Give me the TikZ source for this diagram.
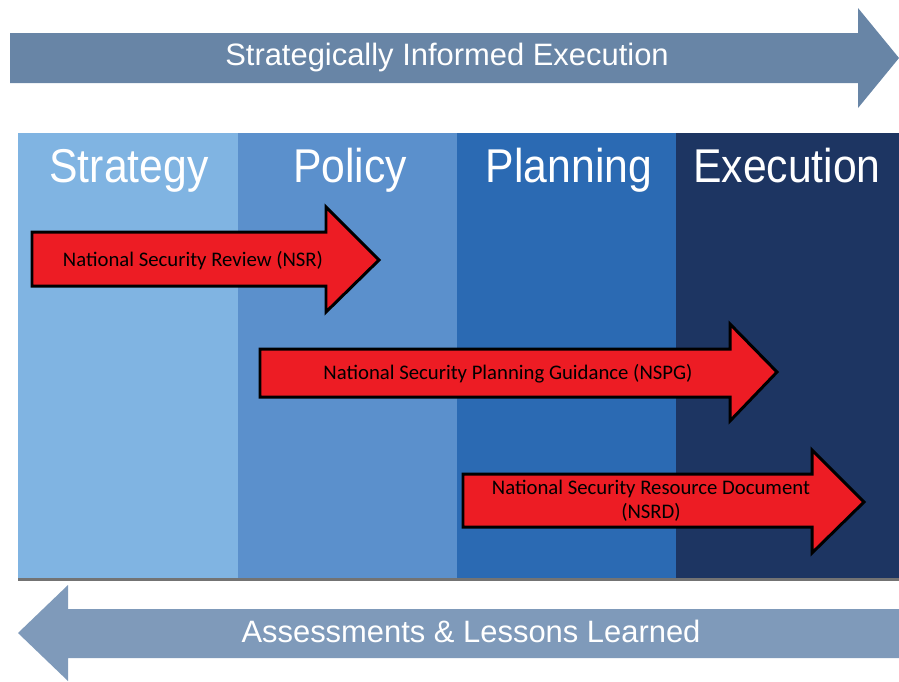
\documentclass[tikz,border=0pt]{standalone}
\usepackage{fontspec}
\setmainfont{Liberation Sans}
\newfontfamily\calibri{Carlito}
\usepackage{xcolor}
\usepackage{tikz}
\usetikzlibrary{calc}

\definecolor{stratblue}{RGB}{128,180,226}
\definecolor{polblue}{RGB}{91,144,204}
\definecolor{planblue}{RGB}{43,106,179}
\definecolor{execblue}{RGB}{29,53,98}
\definecolor{topslate}{RGB}{104,133,166}
\definecolor{botslate}{RGB}{127,154,186}
\definecolor{docred}{RGB}{237,28,36}

\tikzset{
	head/.style={text=white, anchor=base, inner sep=0pt, font=\fontsize{27}{29}\selectfont},
	bartext/.style={text=white, anchor=base, inner sep=0pt, font=\fontsize{17.6}{20}\selectfont},
	redarrow/.style={fill=docred, draw=black, line width=1.7pt, line join=miter},
	redtext/.style={text=black, inner sep=0pt, font=\calibri\fontsize{11.8}{13.6}\selectfont}
}
\newcommand{\narrow}[1]{\scalebox{0.9}[1]{#1}}

\begin{document}
\begin{tikzpicture}[x=0.02cm, y=-0.02cm]
	\useasboundingbox (0,0) rectangle (899,681);

	% four stages
	\fill[black!55] (18,578) rectangle (899,581);
	\fill[stratblue] (18,133) rectangle (238,578);
	\fill[polblue] (238,133) rectangle (457,578);
	\fill[planblue] (457,133) rectangle (676,578);
	\fill[execblue] (676,133) rectangle (899,578);

	\node[head] (strategy) at (129,182) {\narrow{Strategy}};
	\node[head] (policy) at (350,182) {\narrow{Policy}};
	\node[head] (planning) at (569,182) {\narrow{Planning}};
	\node[head] (execution) at (787,182) {\narrow{Execution}};

	% top and bottom arrows
	\fill[topslate] (10,33) -- (858,33) -- (858,8) -- (899,58) -- (858,108) -- (858,83) -- (10,83) -- cycle;
	\node[bartext] (informed) at (447,65) {Strategically Informed Execution};

	\fill[botslate] (899,609) -- (68,609) -- (68,585) -- (18,633) -- (68,681) -- (68,658) -- (899,658) -- cycle;
	\node[bartext] (lessons) at (471,642) {Assessments \& Lessons Learned};

	% documents
	\filldraw[redarrow] (32,232) -- (326,232) -- (326,207) -- (379,260) -- (326,312) -- (326,286) -- (32,286) -- cycle;
	\node[redtext] (nsr) at (193,261) {National Security Review (NSR)};

	\filldraw[redarrow] (260,349) -- (730,349) -- (730,324) -- (777,372) -- (730,421) -- (730,397) -- (260,397) -- cycle;
	\node[redtext] (nspg) at (508,374) {National Security Planning Guidance (NSPG)};

	\filldraw[redarrow] (463,474) -- (812,474) -- (812,450) -- (864,502) -- (812,553) -- (812,527) -- (463,527) -- cycle;
	\node[redtext, align=center] (nsrd) at (651,501) {National Security Resource Document\\(NSRD)};

\end{tikzpicture}
\end{document}
